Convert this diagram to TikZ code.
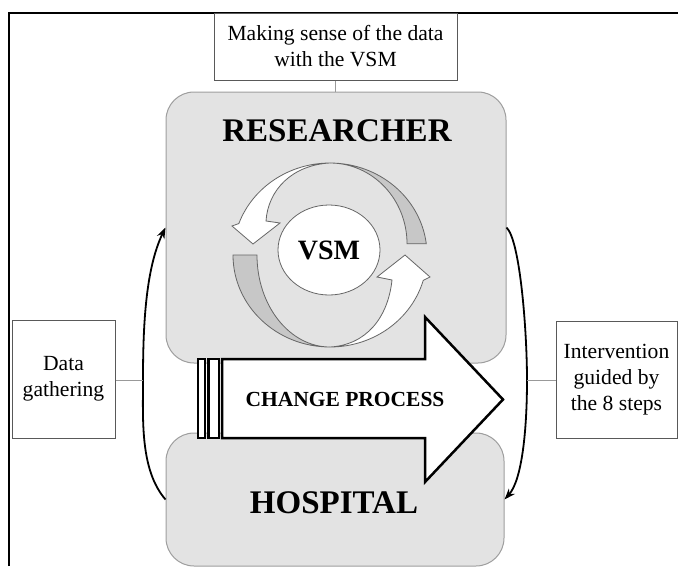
\documentclass[tikz,border=0pt]{standalone}
\usepackage{fontspec}
\setmainfont{Liberation Serif}
\usetikzlibrary{arrows.meta,shapes.geometric}

\begin{document}
\begin{tikzpicture}
            [x=1pt,y=-1pt,
             textbox/.style={draw=black!65,line width=1pt,align=center,inner sep=0pt,font=\fontsize{21.6}{26}\selectfont},
             party/.style={draw=black!38,fill=black!11,rounded corners=28pt,line width=1pt,inner sep=0pt},
             partytitle/.style={font=\fontsize{33}{36}\selectfont\bfseries},
             link/.style={draw=black!40,line width=1pt},
             cyclearrow/.style={-{Stealth[length=11pt,width=8pt]},line width=1.8pt},
             ringback/.style={fill=black!22,draw=black!60,line width=0.8pt},
             ringfront/.style={fill=white,draw=black!60,line width=0.8pt}]
            \useasboundingbox (0,0) rectangle (678,566);
            \draw[line width=2pt] (9,566) -- (9,13) -- (678,13);

            \node[party,minimum width=340pt,minimum height=271pt] (researcher) at (336,227.5) {};
            \node[party,minimum width=338pt,minimum height=133pt] (hospital) at (335,499.5) {};
            \node[partytitle] (restitle) at (337,131) {RESEARCHER};
            \node[partytitle] (hostitle) at (334,502.5) {HOSPITAL};

            % VSM cycle
            \draw[ringback] (426.3,243.8) arc[start angle=-7,end angle=-90,x radius=97,y radius=92]
                arc[start angle=-90,end angle=0,x radius=77,y radius=80.8] -- cycle;
            \draw[ringfront] (330,163) arc[start angle=-90,end angle=-160,x radius=97,y radius=92]
                -- (232,226) -- (253,244) -- (280,223) -- (266,221)
                .. controls (268,190) and (292,165) .. (330,163) -- cycle;
            \draw[ringback] (233,255) arc[start angle=180,end angle=90,x radius=97,y radius=92]
                arc[start angle=90,end angle=180,x radius=73,y radius=92] -- cycle;
            \draw[ringfront] (330,347) arc[start angle=90,end angle=16,x radius=97,y radius=92]
                -- (430,277) -- (405,255) -- (377,277) -- (392,280)
                .. controls (388,318) and (366,345) .. (330,347) -- cycle;
            \node[ellipse,draw=black!60,fill=white,line width=0.8pt,minimum width=102pt,minimum height=90pt,
                  inner sep=0pt,font=\fontsize{28}{30}\selectfont\bfseries] (vsm) at (329,250) {VSM};

            % change arrow
            \draw[line width=2.5pt,fill=white] (222,359) -- (425,359) -- (425,317) -- (503,399.5)
                -- (425,482) -- (425,438) -- (222,438) -- cycle;
            \draw[line width=2.5pt,fill=white] (198,359) rectangle (205,438);
            \draw[line width=2.5pt,fill=white] (208.5,359) rectangle (219,438);
            \node[font=\fontsize{21.5}{24}\selectfont\bfseries] (change) at (345,399.5) {CHANGE PROCESS};

            \node[textbox,minimum width=243pt,minimum height=67pt] (makesense) at (335.5,46.5)
                {Making sense of the data\\with the VSM};
            \node[textbox,minimum width=103pt,minimum height=118pt] (datagather) at (63.5,379)
                {Data\\gathering};
            \node[textbox,minimum width=121pt,minimum height=117pt] (intervention) at (616.5,379.5)
                {Intervention\\guided by\\the 8 steps};

            \coordinate (lmid) at (143,380);
            \coordinate (rmid) at (527,380);
            \draw[cyclearrow] (hospital.west) .. controls (140,470) and (143,420) .. (lmid)
                .. controls (143,330) and (145,270) .. (researcher.west);
            \draw[cyclearrow] (researcher.east) .. controls (520,240) and (527,330) .. (rmid)
                .. controls (527,430) and (522,480) .. (hospital.east);

            \draw[link] (makesense.south) -- (makesense.south |- researcher.north);
            \draw[link] (datagather.east |- lmid) -- (lmid);
            \draw[link] (rmid) -- (intervention.west |- rmid);
        \end{tikzpicture}
\end{document}
